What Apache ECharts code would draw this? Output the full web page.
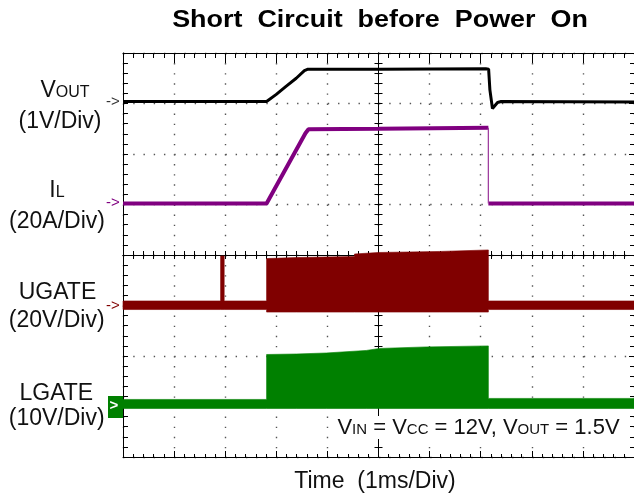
<!DOCTYPE html>
<html><head><meta charset="utf-8">
<script src="https://cdn.jsdelivr.net/npm/echarts@6/dist/echarts.min.js"></script>
<style>html,body{margin:0;padding:0;background:#fff}#c{width:634px;height:499px}</style>
</head><body><div id="c"></div>
<script>
// Units: x = time in divisions (1 ms/Div), y = screen divisions from bottom (0..8)
const xTicks = [0,1,2,3,4,5,6,7,8,9,10];
const yTicks = [0,1,2,3,4,5,6,7,8];

// VOUT trace (1V/Div)
const voutX = [0, 2.81, 3.00, 3.19, 3.39, 3.55, 3.62, 5.00, 7.10, 7.155, 7.18, 7.23, 7.33, 7.40, 10];
const voutY = [7.04, 7.04, 7.18, 7.34, 7.50, 7.65, 7.68, 7.68, 7.69, 7.68, 7.27, 6.90, 7.02, 7.04, 7.03];

// IL trace (20A/Div); the turn-off edge (index 5 -> 6) is drawn thin
const ilX = [0, 2.81, 3.57, 3.63, 5.00, 7.15, 7.15, 10];
const ilY = [5.02, 5.02, 6.41, 6.49, 6.50, 6.52, 5.02, 5.02];
const ilEdge = [5, 6];

// UGATE envelope (20V/Div)
const ugX     = [0,    1.91, 1.91, 1.98, 1.98, 2.81, 2.81, 3.40, 4.53, 4.53, 5.00, 6.20, 7.15, 7.15, 10];
const ugUpper = [3.09, 3.09, 3.98, 3.98, 3.09, 3.09, 3.93, 3.95, 3.97, 4.02, 4.05, 4.07, 4.10, 3.09, 3.09];
const ugLower = [2.92, 2.92, 2.92, 2.92, 2.92, 2.92, 2.87, 2.87, 2.87, 2.87, 2.87, 2.87, 2.87, 2.92, 2.92];

// LGATE envelope (10V/Div)
const lgX     = [0,    2.81, 2.81, 3.40, 3.98, 4.76, 5.02, 5.93, 7.15, 7.15, 10];
const lgUpper = [1.14, 1.14, 2.03, 2.04, 2.06, 2.11, 2.15, 2.18, 2.20, 1.16, 1.16];
const lgLower = [0.96, 0.96, 0.96, 0.96, 0.96, 0.96, 0.96, 0.96, 0.96, 0.96, 0.96];

const pairs = (xs, ys) => xs.map((x, i) => [x, ys[i]]);
const triples = (xs, lo, up) => xs.map((x, i) => [x, lo[i], up[i]]);

// IL main trace with a gap at the thin edge
const ilMain = [];
pairs(ilX, ilY).forEach((p, i) => {
  ilMain.push(p);
  if (i === ilEdge[0]) ilMain.push([ilX[i], '-']);
});
const ilThin = ilEdge.map(i => [ilX[i], ilY[i]]);

const G = {left: 123, top: 53, width: 512, height: 404};
const BLK = '#000';
const none = {show: false};

function frameAxis(extra) {
  return Object.assign({
    type: 'value', axisLabel: none, splitLine: none,
    axisLine: {show: true, onZero: false, lineStyle: {color: BLK, width: 1}},
  }, extra);
}

// envelope band drawn as one polygon through the axes' scales
function bandSeries(name, rows, color) {
  return {
    name: name, type: 'custom', silent: true, z: 5,
    encode: {x: 0, y: [1, 2]},
    data: rows,
    renderItem: function (params, api) {
      if (params.dataIndex !== 0) return null;
      const top = [], bot = [];
      for (let i = 0; i < rows.length; i++) {
        top.push(api.coord([rows[i][0], rows[i][2]]));
        bot.push(api.coord([rows[i][0], rows[i][1]]));
      }
      const pts = top.concat(bot.reverse());
      return {type: 'polygon', shape: {points: pts}, style: {fill: color, stroke: color, lineWidth: 0.6}};
    }
  };
}

const chart = echarts.init(document.getElementById('c'), null, {renderer: 'canvas'});
const font = (s, w) => (w ? w + ' ' : '') + s + 'px "Liberation Sans", Arial, sans-serif';

function label(text, x, y, size, extra) {
  return {
    type: 'text', x: x, y: y, z: 100,
    style: Object.assign({text: text, x: 0, y: 0, font: font(size), fill: '#111',
      align: 'center', verticalAlign: 'middle', textAlign: 'center', textVerticalAlign: 'middle'}, extra || {})
  };
}
function rich(text, x, y, big, small, extra) {
  return {
    type: 'text', x: x, y: y, z: 100,
    style: Object.assign({
      text: text, x: 0, y: 0, fill: '#111', font: font(big),
      align: 'center', verticalAlign: 'middle', textAlign: 'center', textVerticalAlign: 'middle',
      rich: {
        a: {font: font(big), fill: '#111', verticalAlign: 'bottom'},
        b: {font: font(small), fill: '#111', verticalAlign: 'bottom', padding: [0, 0, 1.5, 0]}
      }
    }, extra || {})
  };
}

const option = {
  animation: false,
  backgroundColor: '#fff',
  grid: [G, G, G, G].map(g => Object.assign({containLabel: false}, g)),
  xAxis: [
    frameAxis({gridIndex: 0, min: 0, max: 10, interval: 1, position: 'bottom',
      axisTick: {show: true, inside: true, length: 6, lineStyle: {color: BLK}},
      minorTick: {show: true, splitNumber: 5, length: 3, lineStyle: {color: BLK}},
      splitLine: {show: true, lineStyle: {color: '#555', width: 1.4, type: [1.4, 8.7]}}}),
    frameAxis({gridIndex: 1, min: 0, max: 10, interval: 1, position: 'top',
      axisTick: {show: true, inside: true, length: 10, lineStyle: {color: BLK}},
      minorTick: {show: true, splitNumber: 5, length: 5, lineStyle: {color: BLK}}}),
    frameAxis({gridIndex: 2, min: -5, max: 5, interval: 1,
      axisLine: {show: true, onZero: true, lineStyle: {color: BLK, width: 1}},
      axisTick: {show: true, inside: true, length: 4, lineStyle: {color: BLK}},
      minorTick: {show: true, splitNumber: 5, length: 4, lineStyle: {color: BLK}}}),
    frameAxis({gridIndex: 3, min: -5, max: 5, interval: 1,
      axisLine: {show: true, onZero: true, lineStyle: {color: BLK, width: 1}},
      axisTick: {show: true, inside: false, length: 4, lineStyle: {color: BLK}},
      minorTick: {show: true, splitNumber: 5, length: 4, lineStyle: {color: BLK}}})
  ],
  yAxis: [
    frameAxis({gridIndex: 0, min: 0, max: 8, interval: 1, position: 'left',
      axisTick: {show: true, inside: true, length: 5, lineStyle: {color: BLK}},
      minorTick: {show: true, splitNumber: 5, length: 5, lineStyle: {color: BLK}},
      splitLine: {show: true, lineStyle: {color: '#555', width: 1.4, type: [1.4, 8.84]}}}),
    frameAxis({gridIndex: 1, min: 0, max: 8, interval: 1, position: 'right',
      axisTick: {show: true, inside: true, length: 5, lineStyle: {color: BLK}},
      minorTick: {show: true, splitNumber: 5, length: 4, lineStyle: {color: BLK}}}),
    frameAxis({gridIndex: 2, min: -4, max: 4, interval: 1,
      axisLine: {show: true, onZero: true, lineStyle: {color: BLK, width: 1}},
      axisTick: {show: true, inside: true, length: 4, lineStyle: {color: BLK}},
      minorTick: {show: true, splitNumber: 5, length: 4, lineStyle: {color: BLK}}}),
    frameAxis({gridIndex: 3, min: -4, max: 4, interval: 1,
      axisLine: {show: true, onZero: true, lineStyle: {color: BLK, width: 1}},
      axisTick: {show: true, inside: false, length: 4, lineStyle: {color: BLK}},
      minorTick: {show: true, splitNumber: 5, length: 4, lineStyle: {color: BLK}}})
  ],
  series: [
    bandSeries('UGATE', triples(ugX, ugLower, ugUpper), '#800000'),
    bandSeries('LGATE', triples(lgX, lgLower, lgUpper), '#008000'),
    {name: 'IL', type: 'line', data: ilMain, symbol: 'none', silent: true, connectNulls: false,
      lineStyle: {color: '#800080', width: 4}, z: 6},
    {name: 'IL edge', type: 'line', data: ilThin, symbol: 'none', silent: true,
      lineStyle: {color: '#a040a0', width: 1.3}, z: 6},
    {name: 'VOUT', type: 'line', data: pairs(voutX, voutY), symbol: 'none', silent: true,
      lineStyle: {color: '#000', width: 3}, z: 7}
  ],
  graphic: [
    label('Short  Circuit  before  Power  On', 380, 21, 23, {font: font(23, 'bold'), fill: '#000'}),
    rich('{a|V}{b|OUT}', 65, 91, 23, 16),
    label('(1V/Div)', 60, 122, 23),
    rich('{a|I}{b|L}', 57, 191, 23, 16),
    label('(20A/Div)', 57, 222, 23),
    label('UGATE', 57.5, 293, 23),
    label('(20V/Div)', 56.7, 321, 23),
    label('LGATE', 56.3, 393.5, 23),
    label('(10V/Div)', 56.7, 418.5, 23),
    label('Time  (1ms/Div)', 375, 482, 23),
    rich('{a|V}{b|IN}{a| = V}{b|CC}{a| = 12V, V}{b|OUT}{a| = 1.5V}', 478.5, 427.5, 22, 15,
      {backgroundColor: '#fff', padding: [1, 3, 0, 3]}),
    label('->', 113, 101.5, 15, {fill: '#333'}),
    label('->', 113, 203, 15, {fill: '#800080'}),
    label('->', 113, 305.5, 15, {fill: '#800000'}),
    {type: 'rect', z: 100, shape: {x: 108, y: 396, width: 15, height: 22}, style: {fill: '#008000'}},
    label('>', 114, 405.5, 15, {fill: '#fff', font: font(15, 'bold')})
  ]
};
option.graphic[0].scaleX = 1.17;
chart.setOption(option);
</script></body></html>
